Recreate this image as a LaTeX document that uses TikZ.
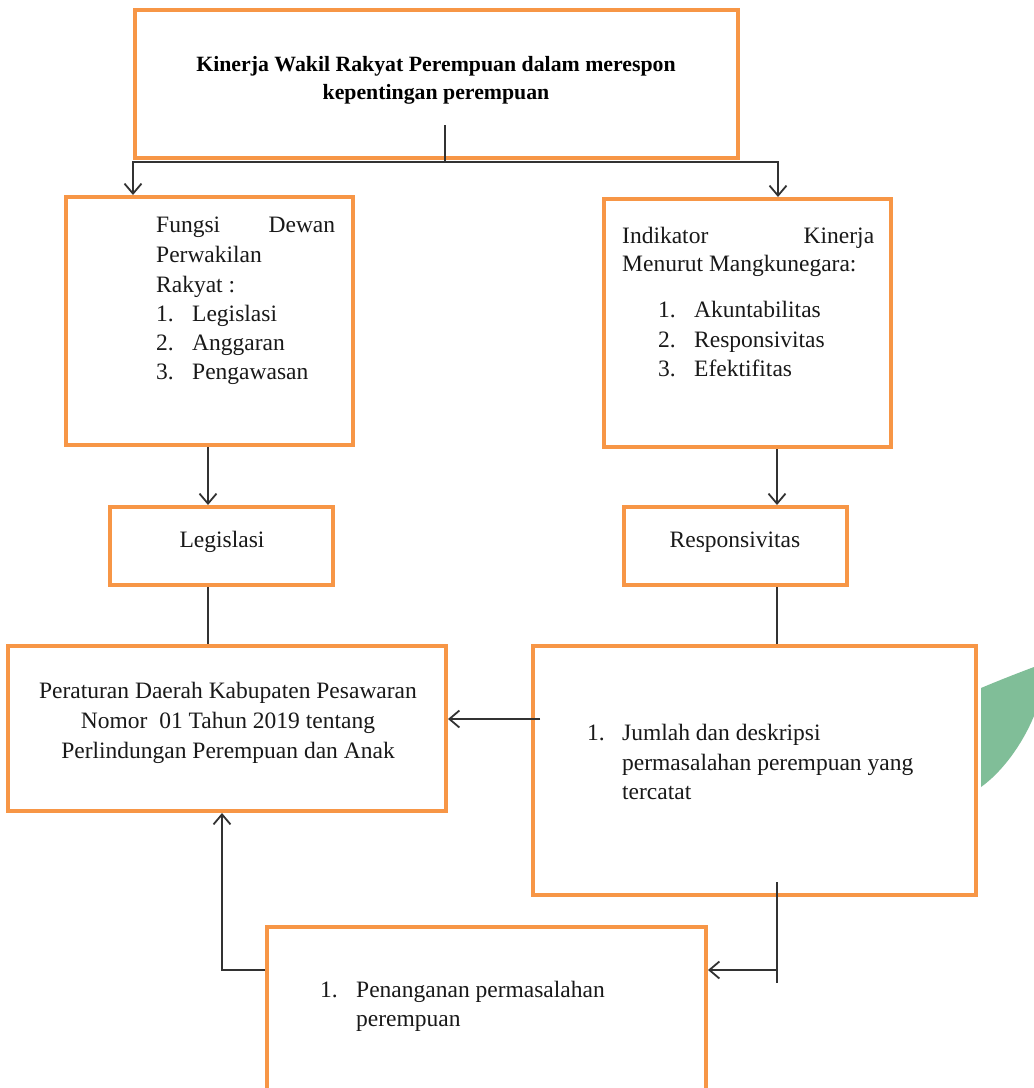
\documentclass[tikz,border=0pt]{standalone}
\usepackage{fontspec}
\setmainfont{Liberation Serif}
\usetikzlibrary{arrows.meta}
\definecolor{boxorange}{RGB}{247,150,70}
\definecolor{linegrey}{RGB}{50,50,50}
\definecolor{leafgreen}{RGB}{128,190,152}
\tikzset{
  obox/.style={draw=boxorange, line width=4pt, fill=white, inner sep=0pt, rectangle},
  conn/.style={draw=linegrey, line width=1.5pt},
  arr/.style={conn, -{Straight Barb[length=10pt,width=17pt,line width=1.8pt]}},
  body/.style={font=\fontsize{23.5}{30}\selectfont, inner sep=0pt, anchor=base west, text=black!90},
  bodyc/.style={body, anchor=base},
  titletext/.style={font=\fontsize{21.8}{28}\selectfont\bfseries, inner sep=0pt, anchor=base, text=black}
}
\newcommand\orbox[5]{\node[obox, minimum width={#4-#2}, minimum height={#5-#3}] (#1) at ({(#2+#4)/2},{(#3+#5)/2}) {};}
\begin{document}
\begin{tikzpicture}[x=1pt,y=-1pt]
\useasboundingbox (0,0) rectangle (1034,1088);
\clip (0,0) rectangle (1034,1088);
\fill[white] (0,0) rectangle (1034,1088);
% watermark leaf
\fill[leafgreen] (981,688) .. controls (1000,680) and (1018,673) .. (1034,667) -- (1034,716) .. controls (1022,745) and (1002,772) .. (981,787) -- cycle;
% boxes
\orbox{top}{135}{10}{738}{158}
\orbox{fungsi}{66}{197}{353}{445}
\orbox{indik}{604}{199}{891}{447}
\orbox{legis}{110}{507}{333}{585}
\orbox{resp}{624}{507}{847}{585}
\orbox{perda}{8}{646}{446}{811}
\orbox{jumlah}{533}{646}{976}{895}
\orbox{tangani}{267}{927}{706}{1110}
% texts
\node[titletext] (t1) at (436,71) {Kinerja Wakil Rakyat Perempuan dalam merespon};
\node[titletext] (t2) at (436,99) {kepentingan perempuan};
\node[body] (f1) at (156,232) {\hbox to 179pt{Fungsi\hfill Dewan}};
\node[body] (f2) at (156,262) {Perwakilan};
\node[body] (f3) at (156,292) {Rakyat :};
\node[body] (f4n) at (156,321) {1.};
\node[body] (f4) at (192,321) {Legislasi};
\node[body] (f5n) at (156,350) {2.};
\node[body] (f5) at (192,350) {Anggaran};
\node[body] (f6n) at (156,379) {3.};
\node[body] (f6) at (192,379) {Pengawasan};
\node[body] (i1) at (622,243) {\hbox to 252pt{Indikator\hfill Kinerja}};
\node[body] (i2) at (622,271) {Menurut Mangkunegara:};
\node[body] (i3n) at (658,317) {1.};
\node[body] (i3) at (694,317) {Akuntabilitas};
\node[body] (i4n) at (658,347) {2.};
\node[body] (i4) at (694,347) {Responsivitas};
\node[body] (i5n) at (658,376) {3.};
\node[body] (i5) at (694,376) {Efektifitas};
\node[bodyc] (lt) at (222,547) {Legislasi};
\node[bodyc] (rt) at (735,547) {Responsivitas};
\node[bodyc] (p1) at (228,698) {Peraturan Daerah Kabupaten Pesawaran};
\node[bodyc] (p2) at (228,728) {Nomor\ \ 01 Tahun 2019 tentang};
\node[bodyc] (p3) at (228,758) {Perlindungan Perempuan dan Anak};
\node[body] (j1n) at (587,740) {1.};
\node[body] (j1) at (622,740) {Jumlah dan deskripsi};
\node[body] (j2) at (622,770) {permasalahan perempuan yang};
\node[body] (j3) at (622,799) {tercatat};
\node[body] (b1n) at (320,997) {1.};
\node[body] (b1) at (356,997) {Penanganan permasalahan};
\node[body] (b2) at (356,1026) {perempuan};
% connector coordinates
\coordinate (stem) at (445,125);
\coordinate (hL) at (133,162);
\coordinate (hR) at (778,162);
\coordinate (xL) at (208,0);
\coordinate (xR) at (777,0);
\coordinate (jin) at (540,719);
\coordinate (jb1) at (777,882);
\coordinate (jb2) at (777,983);
\coordinate (jm) at (777,970);
\coordinate (bl) at (222,970);
% connectors
\draw[conn] (stem) -- (stem |- hL);
\draw[arr] (hR) -- (hL) -- (fungsi.north -| hL);
\draw[arr] (hL) -- (hR) -- (indik.north -| hR);
\draw[arr] (fungsi.south -| xL) -- (legis.north -| xL);
\draw[arr] (indik.south -| xR) -- (resp.north -| xR);
\draw[conn] (legis.south -| xL) -- (perda.north -| xL);
\draw[conn] (resp.south -| xR) -- (jumlah.north -| xR);
\draw[arr] (jin) -- (perda.east |- jin);
\draw[conn] (jb1) -- (jb2);
\draw[arr] (jm) -- (tangani.east |- jm);
\draw[arr] (tangani.west |- bl) -- (bl) -- (perda.south -| bl);
\end{tikzpicture}
\end{document}
